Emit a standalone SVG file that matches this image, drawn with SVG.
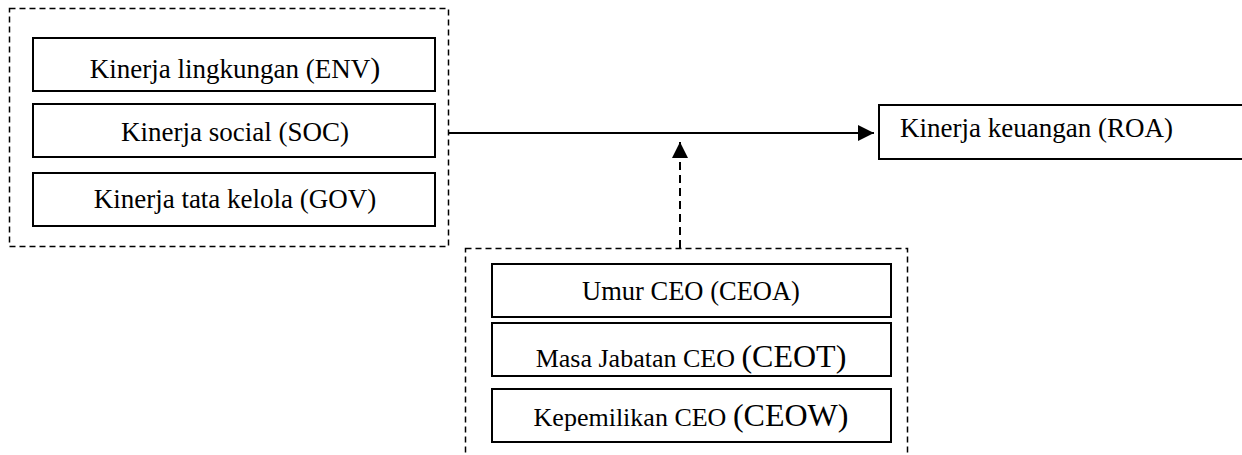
<svg xmlns="http://www.w3.org/2000/svg" width="1242" height="455" viewBox="0 0 1242 455">
  <style>
    .box { fill: #fff; stroke: #000; stroke-width: 2; }
    .group { fill: none; stroke: #000; stroke-width: 1.5; stroke-dasharray: 6 4; }
    .t { font-family: "Liberation Serif", serif; fill: #000; }
    .c { text-anchor: middle; }
    .big { font-size: 27px; }
    .sm { font-size: 26.5px; }
    .mid { font-size: 26px; }
    .lg { font-size: 32px; }
    .par { font-size: 30px; }
    .conn { fill: none; stroke: #000; stroke-width: 2; }
    .dash { stroke-dasharray: 8 5; }
  </style>
  <defs>
    <marker id="arrow" viewBox="0 0 10 10" refX="10" refY="5" markerWidth="16" markerHeight="16" markerUnits="userSpaceOnUse" orient="auto">
      <path d="M0,0 L10,5 L0,10 z" fill="#000"/>
    </marker>
  </defs>
  <rect width="1242" height="455" fill="#fff"/>

  <g id="group-esg">
    <rect class="group" x="9.5" y="8.5" width="439" height="238"/>
  </g>
  <g id="node-env">
    <rect class="box" x="33" y="38" width="402" height="53"/>
    <text class="t big c" x="235" y="78">Kinerja lingkungan (ENV<tspan class="par">)</tspan></text>
  </g>
  <g id="node-soc">
    <rect class="box" x="33" y="104" width="402" height="53"/>
    <text class="t big c" x="235" y="141">Kinerja social (SOC)</text>
  </g>
  <g id="node-gov">
    <rect class="box" x="33" y="173" width="402" height="53"/>
    <text class="t big c" x="235" y="208">Kinerja tata kelola (GOV)</text>
  </g>

  <g id="node-roa">
    <rect class="box" x="879" y="105" width="380" height="54"/>
    <text class="t big" x="900" y="137">Kinerja keuangan (ROA)</text>
  </g>

  <g id="group-ceo">
    <rect class="group" x="465.5" y="248.5" width="442" height="230"/>
  </g>
  <g id="node-ceoa">
    <rect class="box" x="492" y="264" width="399" height="53"/>
    <text class="t sm c" x="691" y="300">Umur CEO (CEOA)</text>
  </g>
  <g id="node-ceot">
    <rect class="box" x="492" y="323" width="399" height="53"/>
    <text class="t mid c" x="691" y="367">Masa Jabatan CEO <tspan class="lg">(CEOT)</tspan></text>
  </g>
  <g id="node-ceow">
    <rect class="box" x="492" y="389" width="399" height="53"/>
    <text class="t mid c" x="691" y="426">Kepemilikan CEO <tspan class="lg">(CEOW)</tspan></text>
  </g>

  <g id="connectors">
    <line class="conn" x1="449" y1="133" x2="874" y2="133" marker-end="url(#arrow)"/>
    <line class="conn dash" x1="680" y1="248" x2="680" y2="142" marker-end="url(#arrow)"/>
  </g>
</svg>
